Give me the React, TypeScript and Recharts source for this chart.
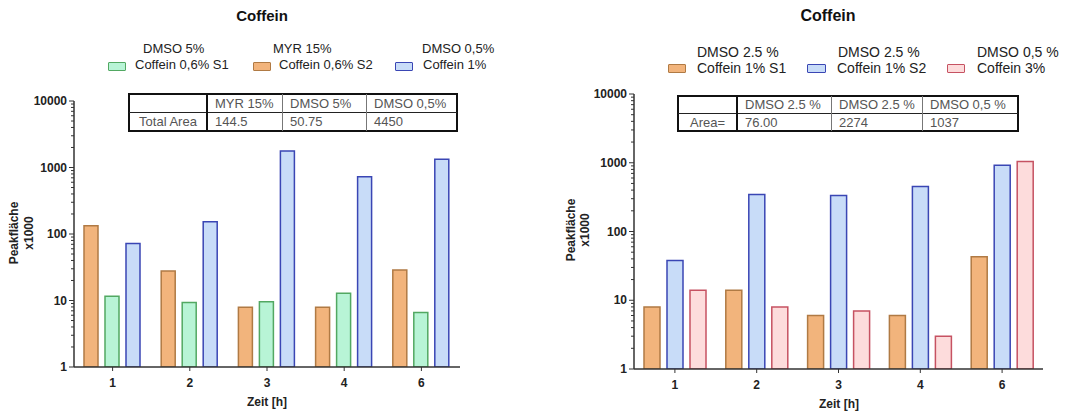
import React from 'react';
import { BarChart, Bar, XAxis, YAxis } from 'recharts';

const categories = ['1', '2', '3', '4', '6'];

// Left chart
const leftMyrS2 = [133, 27.8, 7.9, 7.9, 28.7];
const leftDmsoS1 = [11.6, 9.3, 9.6, 12.8, 6.6];
const leftDmsoC1 = [72, 153, 1770, 728, 1327];

// Right chart
const rightC1S1 = [8.0, 14, 6.0, 6.0, 43];
const rightC1S2 = [38, 345, 334, 452, 923];
const rightC3 = [14, 8, 7, 3, 1045];

const logTicks = [
  1, 2, 3, 4, 5, 6, 7, 8, 9,
  10, 20, 30, 40, 50, 60, 70, 80, 90,
  100, 200, 300, 400, 500, 600, 700, 800, 900,
  1000, 2000, 3000, 4000, 5000, 6000, 7000, 8000, 9000,
  10000,
];
const majorTicks = [1, 10, 100, 1000, 10000];

const leftTableHeader = ['', 'MYR 15%', 'DMSO 5%', 'DMSO 0,5%'];
const leftTableRow = ['Total Area', '144.5', '50.75', '4450'];
const rightTableHeader = ['', 'DMSO 2.5 %', 'DMSO 2.5 %', 'DMSO 0,5 %'];
const rightTableRow = ['Area=', '76.00', '2274', '1037'];

const leftData = categories.map((c, i) => ({
  cat: c,
  s2: leftMyrS2[i],
  s1: leftDmsoS1[i],
  c1: leftDmsoC1[i],
}));
const rightData = categories.map((c, i) => ({
  cat: c,
  s1: rightC1S1[i],
  s2: rightC1S2[i],
  c3: rightC3[i],
}));

const ORANGE = { fill: '#F2B47C', stroke: '#B07A44' };
const GREEN = { fill: '#B8F4D6', stroke: '#52A862' };
const BLUE = { fill: '#C8DCF8', stroke: '#3A46B4' };
const PINK = { fill: '#FDDCDC', stroke: '#C65262' };

const FONT = '"Liberation Sans", Arial, Helvetica, sans-serif';

const YTick = (props: any) => {
  const { x, y, payload } = props;
  const v = payload.value;
  const major = majorTicks.includes(v);
  const ax = x + 7;
  return (
    <g>
      <line x1={ax} x2={ax - (major ? 5 : 3)} y1={y} y2={y} stroke="#333" strokeWidth={1} />
      {major && (
        <text
          x={ax - 7}
          y={y}
          textAnchor="end"
          dominantBaseline="central"
          fontSize={12}
          fontWeight="bold"
          fill="#222"
          fontFamily={FONT}
        >
          {v}
        </text>
      )}
    </g>
  );
};

function Txt({ x, cy, size, bold, children, color, anchor }: any) {
  const style: React.CSSProperties = {
    position: 'absolute',
    top: cy - size / 2,
    fontSize: size,
    lineHeight: `${size}px`,
    fontWeight: bold ? 'bold' : 'normal',
    color: color || '#222',
    whiteSpace: 'nowrap',
  };
  if (anchor === 'middle') {
    style.left = x - 200;
    style.width = 400;
    style.textAlign = 'center';
  } else {
    style.left = x;
  }
  return <div style={style}>{children}</div>;
}

function Swatch({ x, y, w, h, c }: any) {
  return (
    <div
      style={{
        position: 'absolute',
        left: x,
        top: y,
        width: w,
        height: h,
        background: c.fill,
        border: `1.5px solid ${c.stroke}`,
        boxSizing: 'border-box',
        borderRadius: 1,
      }}
    />
  );
}

function InfoTable({ cols, rows, header, row, fontSize, centerFirst }: any) {
  const x0 = cols[0];
  const x1 = cols[cols.length - 1];
  const y0 = rows[0];
  const y1 = rows[rows.length - 1];
  const lines: any[] = [];
  // horizontal divider
  lines.push(
    <div key="h" style={{ position: 'absolute', left: x0, top: rows[1] - 0.75, width: x1 - x0, height: 1.5, background: '#222' }} />
  );
  for (let i = 1; i < cols.length - 1; i++) {
    const w = i === 1 ? 2 : 1;
    lines.push(
      <div
        key={'v' + i}
        style={{ position: 'absolute', left: cols[i] - w / 2, top: y0, width: w, height: y1 - y0, background: i === 1 ? '#111' : '#777' }}
      />
    );
  }
  const texts: any[] = [];
  [header, row].forEach((r: string[], ri: number) => {
    const cy = (rows[ri] + rows[ri + 1]) / 2;
    r.forEach((t, ci) => {
      if (!t) return;
      if (ci === 0 && centerFirst) {
        texts.push(
          <Txt key={ri + '-' + ci} x={(cols[0] + cols[1]) / 2} cy={cy} size={fontSize} anchor="middle" color="#555">
            {t}
          </Txt>
        );
      } else {
        texts.push(
          <Txt key={ri + '-' + ci} x={cols[ci] + 8} cy={cy} size={fontSize} color="#555">
            {t}
          </Txt>
        );
      }
    });
  });
  return (
    <>
      <div
        style={{
          position: 'absolute',
          left: x0 - 1,
          top: y0 - 1,
          width: x1 - x0 + 2,
          height: y1 - y0 + 2,
          border: '2px solid #111',
          boxSizing: 'border-box',
          background: '#fff',
        }}
      />
      {lines}
      {texts}
    </>
  );
}

function YLabel({ cx, cy, gap }: any) {
  return (
    <div
      style={{
        position: 'absolute',
        left: cx - 50,
        top: cy - gap,
        width: 100,
        height: gap * 2,
        transform: 'rotate(-90deg)',
        textAlign: 'center',
        fontSize: 12,
        fontWeight: 'bold',
        lineHeight: `${gap}px`,
        color: '#222',
      }}
    >
      <div>Peakfläche</div>
      <div>x1000</div>
    </div>
  );
}

export default function App() {
  return (
    <div
      style={{
        position: 'absolute',
        left: 0,
        top: 0,
        width: 1067,
        height: 414,
        background: '#fff',
        fontFamily: FONT,
        overflow: 'hidden',
      }}
    >
      {/* Left chart */}
      <div style={{ position: 'absolute', left: 0, top: 0 }}>
        <BarChart
          width={533}
          height={414}
          data={leftData}
          margin={{ top: 101, right: 73, bottom: 17, left: 14 }}
          barCategoryGap={10}
          barGap={7}
        >
          <XAxis
            dataKey="cat"
            tickSize={4}
            tickMargin={7}
            axisLine={{ stroke: '#333', strokeWidth: 1.5 }}
            tickLine={{ stroke: '#333' }}
            tick={{ fontSize: 12, fontWeight: 'bold', fill: '#222' }}
          />
          <YAxis
            scale="log"
            domain={[1, 10000]}
            ticks={logTicks}
            interval={0}
            allowDataOverflow
            width={60}
            tickSize={5}
            tickMargin={2}
            tickLine={false}
            axisLine={{ stroke: '#333', strokeWidth: 1.5 }}
            tick={YTick}
          />
          <Bar dataKey="s2" name="MYR 15% Coffein 0,6% S2" fill={ORANGE.fill} stroke={ORANGE.stroke} strokeWidth={1.5} isAnimationActive={false} />
          <Bar dataKey="s1" name="DMSO 5% Coffein 0,6% S1" fill={GREEN.fill} stroke={GREEN.stroke} strokeWidth={1.5} isAnimationActive={false} />
          <Bar dataKey="c1" name="DMSO 0,5% Coffein 1%" fill={BLUE.fill} stroke={BLUE.stroke} strokeWidth={1.5} isAnimationActive={false} />
        </BarChart>
      </div>

      {/* Right chart */}
      <div style={{ position: 'absolute', left: 533, top: 0 }}>
        <BarChart
          width={534}
          height={414}
          data={rightData}
          margin={{ top: 94, right: 24, bottom: 15, left: 41 }}
          barCategoryGap={10}
          barGap={7}
        >
          <XAxis
            dataKey="cat"
            tickSize={4}
            tickMargin={7}
            axisLine={{ stroke: '#333', strokeWidth: 1.5 }}
            tickLine={{ stroke: '#333' }}
            tick={{ fontSize: 12, fontWeight: 'bold', fill: '#222' }}
          />
          <YAxis
            scale="log"
            domain={[1, 10000]}
            ticks={logTicks}
            interval={0}
            allowDataOverflow
            width={60}
            tickSize={5}
            tickMargin={2}
            tickLine={false}
            axisLine={{ stroke: '#333', strokeWidth: 1.5 }}
            tick={YTick}
          />
          <Bar dataKey="s1" name="DMSO 2.5 % Coffein 1% S1" fill={ORANGE.fill} stroke={ORANGE.stroke} strokeWidth={1.5} isAnimationActive={false} />
          <Bar dataKey="s2" name="DMSO 2.5 % Coffein 1% S2" fill={BLUE.fill} stroke={BLUE.stroke} strokeWidth={1.5} isAnimationActive={false} />
          <Bar dataKey="c3" name="DMSO 0,5 % Coffein 3%" fill={PINK.fill} stroke={PINK.stroke} strokeWidth={1.5} isAnimationActive={false} />
        </BarChart>
      </div>

      {/* Titles */}
      <Txt x={262} cy={15} size={15} bold anchor="middle" color="#111">Coffein</Txt>
      <Txt x={828} cy={16} size={16} bold anchor="middle" color="#111">Coffein</Txt>

      {/* Left legend */}
      <Txt x={143} cy={48} size={13}>DMSO 5%</Txt>
      <Swatch x={108} y={62} w={18} h={9} c={GREEN} />
      <Txt x={135} cy={64} size={13}>Coffein 0,6% S1</Txt>
      <Txt x={273} cy={48} size={13}>MYR 15%</Txt>
      <Swatch x={253} y={62} w={18} h={9} c={ORANGE} />
      <Txt x={279} cy={64} size={13}>Coffein 0,6% S2</Txt>
      <Txt x={422} cy={48} size={13}>DMSO 0,5%</Txt>
      <Swatch x={395} y={62} w={18} h={9} c={BLUE} />
      <Txt x={423} cy={64} size={13}>Coffein 1%</Txt>

      {/* Right legend */}
      <Txt x={697} cy={52} size={14}>DMSO 2.5 %</Txt>
      <Swatch x={668} y={64} w={18} h={9} c={ORANGE} />
      <Txt x={697} cy={68} size={14}>Coffein 1% S1</Txt>
      <Txt x={838} cy={52} size={14}>DMSO 2.5 %</Txt>
      <Swatch x={807} y={64} w={19} h={9} c={BLUE} />
      <Txt x={837} cy={68} size={14}>Coffein 1% S2</Txt>
      <Txt x={977} cy={52} size={14}>DMSO 0,5 %</Txt>
      <Swatch x={947} y={64} w={18} h={9} c={PINK} />
      <Txt x={977} cy={68} size={14}>Coffein 3%</Txt>

      {/* Tables */}
      <InfoTable cols={[129, 207, 282, 366, 457]} rows={[94, 112.7, 131]} header={leftTableHeader} row={leftTableRow} fontSize={13} centerFirst />
      <InfoTable cols={[678, 737, 831, 922, 1018]} rows={[96, 113.3, 130.7]} header={rightTableHeader} row={rightTableRow} fontSize={13} centerFirst />

      {/* Axis titles */}
      <YLabel cx={21.5} cy={233} gap={15} />
      <YLabel cx={578} cy={230} gap={14} />
      <Txt x={267} cy={402} size={12} bold anchor="middle">Zeit [h]</Txt>
      <Txt x={839} cy={404} size={12} bold anchor="middle">Zeit [h]</Txt>
    </div>
  );
}
